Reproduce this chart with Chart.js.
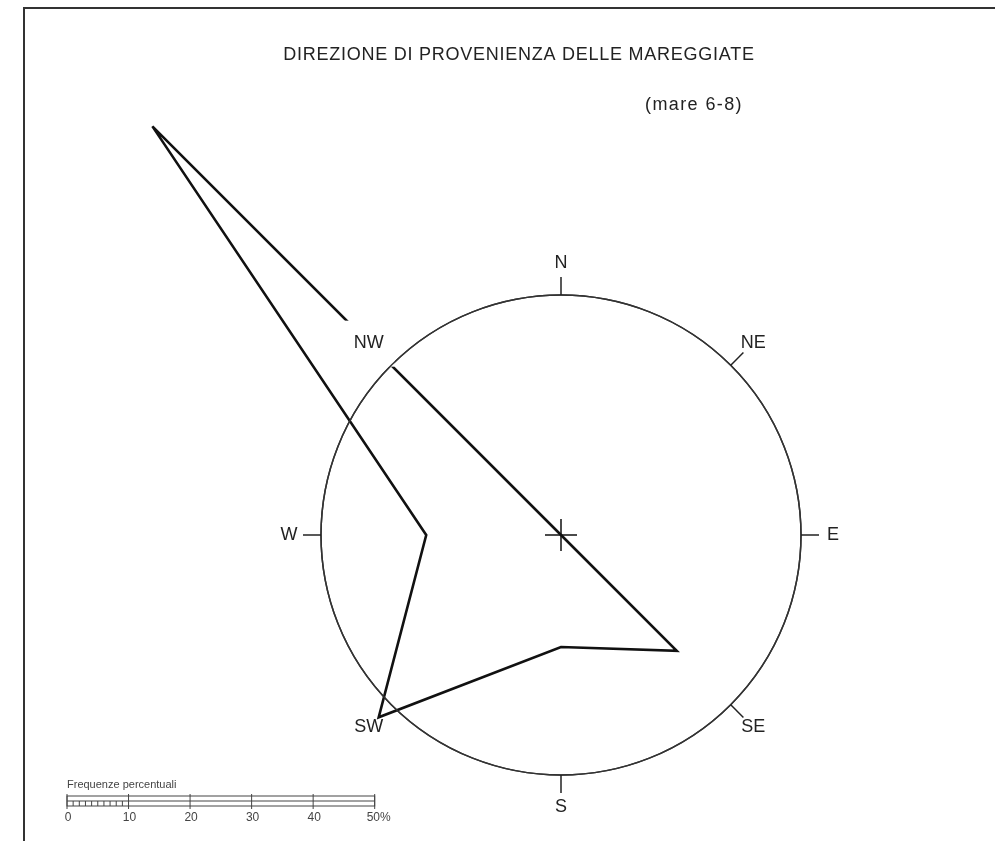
<!DOCTYPE html>
<html>
<head>
<meta charset="utf-8">
<script src="https://cdn.jsdelivr.net/npm/chart.js@4"></script>
<style>
  html, body { margin: 0; padding: 0; background: #fff; overflow: hidden; }
  #wrap { width: 995px; height: 841px; position: relative; }
</style>
</head>
<body>
<div id="wrap"><canvas id="rose" width="995" height="841"></canvas></div>
<script>
// directions (clockwise from N) and frequencies in %
const directions = ['N', 'NE', 'E', 'SE', 'S', 'SW', 'W', 'NW'];
const frequencies = [0, 0, 0, 26.6, 18.2, 41.9, 21.9, 93.9];
const circleValue = 39;
const scaleBarTicks = [0, 10, 20, 30, 40, 50];
const scaleBarLabels = ['0', '10', '20', '30', '40', '50%'];

const FONT = '"Liberation Sans", Arial, sans-serif';

// titles, frame, direction labels, center cross and scale bar
const decorations = {
  id: 'decorations',
  afterDraw(chart) {
    const ctx = chart.ctx;
    const r = chart.scales.r;
    const R = r.drawingArea;
    const cx = r.xCenter;
    const cy = r.yCenter;

    ctx.save();

    // frame
    ctx.strokeStyle = '#333';
    ctx.lineWidth = 2;
    ctx.beginPath();
    ctx.moveTo(995, 8);
    ctx.lineTo(24, 8);
    ctx.lineTo(24, 841);
    ctx.stroke();

    // titles
    ctx.fillStyle = '#222';
    ctx.textAlign = 'center';
    ctx.textBaseline = 'middle';
    ctx.font = '18px ' + FONT;
    ctx.letterSpacing = '0.75px';
    ctx.fillText('DIREZIONE DI PROVENIENZA DELLE MAREGGIATE', 519, 55);
    ctx.letterSpacing = '1.4px';
    ctx.fillText('(mare 6-8)', 694, 105);
    ctx.letterSpacing = '0px';

    // NW label sits on a white patch that cuts the polygon line
    const nw = r.getPointPosition(directions.indexOf('NW'), R + 32);
    ctx.fillStyle = '#fff';
    ctx.fillRect(nw.x - 26, nw.y - 22, 52, 46);

    // redraw the circle over the patch
    ctx.strokeStyle = '#333';
    ctx.lineWidth = 1.5;
    ctx.beginPath();
    ctx.arc(cx, cy, R, 0, Math.PI * 2);
    ctx.stroke();

    // ticks outside the circle
    ctx.strokeStyle = '#222';
    directions.forEach((d, i) => {
      if (d === 'NW' || d === 'SW') return;
      const a = r.getPointPosition(i, R);
      const b = r.getPointPosition(i, R + 18);
      ctx.beginPath();
      ctx.moveTo(a.x, a.y);
      ctx.lineTo(b.x, b.y);
      ctx.stroke();
    });

    // direction labels
    ctx.fillStyle = '#222';
    ctx.font = '18px ' + FONT;
    directions.forEach((d, i) => {
      const p = r.getPointPosition(i, R + 32);
      ctx.fillText(d, p.x, p.y);
    });

    // center cross
    ctx.strokeStyle = '#111';
    ctx.beginPath();
    ctx.moveTo(cx - 16, cy);
    ctx.lineTo(cx + 16, cy);
    ctx.moveTo(cx, cy - 16);
    ctx.lineTo(cx, cy + 16);
    ctx.stroke();

    // scale bar, same scale as the chart
    const x0 = 67;
    const unit = (v) => x0 + r.getDistanceFromCenterForValue(v);
    const xEnd = unit(50);
    ctx.strokeStyle = '#444';
    ctx.lineWidth = 1;
    ctx.strokeRect(x0, 796, xEnd - x0, 10);
    ctx.beginPath();
    ctx.moveTo(x0, 801);
    ctx.lineTo(xEnd, 801);
    for (let v = 1; v < 10; v++) {
      ctx.moveTo(unit(v), 801);
      ctx.lineTo(unit(v), 806);
    }
    scaleBarTicks.forEach((v) => {
      ctx.moveTo(unit(v), 794);
      ctx.lineTo(unit(v), 809);
    });
    ctx.stroke();

    ctx.fillStyle = '#444';
    ctx.font = '12px ' + FONT;
    scaleBarTicks.forEach((v, i) => {
      ctx.fillText(scaleBarLabels[i], unit(v) + (i === 5 ? 4 : 1), 818);
    });
    ctx.textAlign = 'left';
    ctx.font = '11px ' + FONT;
    ctx.fillText('Frequenze percentuali', x0, 785);

    ctx.restore();
  }
};

new Chart(document.getElementById('rose'), {
  type: 'radar',
  data: {
    labels: directions,
    datasets: [{
      data: frequencies,
      borderColor: '#111',
      borderWidth: 2.6,
      borderJoinStyle: 'miter',
      fill: false,
      pointRadius: 0,
      tension: 0,
      clip: false
    }]
  },
  options: {
    responsive: false,
    animation: false,
    layout: { padding: { left: 321, right: 194, top: 295, bottom: 66 } },
    plugins: { legend: { display: false }, tooltip: { enabled: false } },
    scales: {
      r: {
        min: 0,
        max: circleValue,
        ticks: { display: false, stepSize: circleValue },
        pointLabels: { display: false },
        angleLines: { display: false },
        grid: { circular: true, color: '#333', lineWidth: 1.5 }
      }
    }
  },
  plugins: [decorations]
});
</script>
</body>
</html>
